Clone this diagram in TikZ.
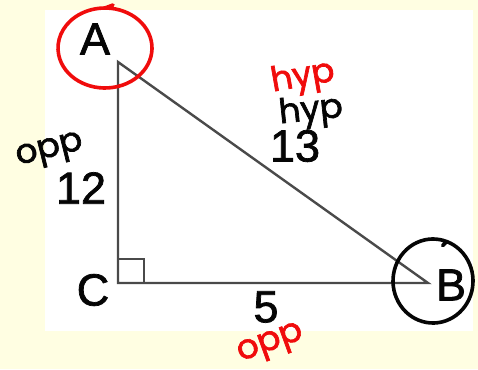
\documentclass[tikz,border=0pt]{standalone}
\usepackage{fontspec}
\usepackage{tikz}
\usetikzlibrary{calc}
\newfontfamily\labfont[FakeBold=1.6]{Liberation Sans}
\newfontfamily\handfont[FakeBold=2]{Poppins}
\definecolor{Paper}{HTML}{FFFEE2}
\definecolor{Edge}{HTML}{4A4A4A}
\definecolor{Pen}{HTML}{F00C0C}
\definecolor{Ink}{HTML}{050505}
\tikzset{
  side/.style={draw=Edge,line width=2.4pt,line join=miter},
  vlab/.style={font=\labfont\fontsize{45}{50}\selectfont,text=Ink,inner sep=0pt},
  note/.style={font=\handfont\fontsize{34}{38}\selectfont,inner sep=0pt},
  loop/.style={line width=3.6pt,line cap=round,line join=round}
}
\begin{document}
\begin{tikzpicture}[x=1pt,y=-1pt]
  \fill[Paper] (0,0) rectangle (478,369);
  \useasboundingbox (0,0) rectangle (478,369);
  \fill[white] (45,10) rectangle (473,331);
  % triangle
  \coordinate (A) at (118,62);
  \coordinate (C) at (118,283);
  \coordinate (B) at (428,283);
  \draw[side] (A) -- (C) -- (B) -- cycle;
  \draw[side,line width=2pt] (C) rectangle ++(26,-24);
  % vertex and side labels
  \node[vlab] (labA) at (95,39) {A};
  \node[vlab] (labC) at (93,290) {C};
  \node[vlab] (labB) at (451,285) {B};
  \node[vlab] (len12) at (81,188) {12};
  \node[vlab] (len13) at (295,146) {13};
  \node[vlab] (len5) at (266,307) {5};
  % notes
  \node[note,text=Pen,rotate=10] (hypR) at (303,78) {hyp};
  \node[note,text=Ink,rotate=6] (hypK) at (311,112) {hyp};
  \node[note,text=Ink,rotate=14] (oppL) at (50,152) {opp};
  \node[note,text=Pen,rotate=20] (oppB) at (271,345) {opp};
  % circled angles
  \coordinate (ringA) at ($(labA)+(10,9)$);
  \coordinate (ringB) at ($(labB)+(-18,-4)$);
  \draw[loop,draw=Pen] ($(ringA)+(260:47 and 40)$) arc[start angle=260,end angle=630,x radius=47,y radius=40] -- ++(8,-3);
  \draw[loop,draw=Ink] ($(ringB)+(240:40 and 42)$) arc[start angle=240,end angle=650,x radius=40,y radius=42] -- ++(-4,4);
\end{tikzpicture}
\end{document}
